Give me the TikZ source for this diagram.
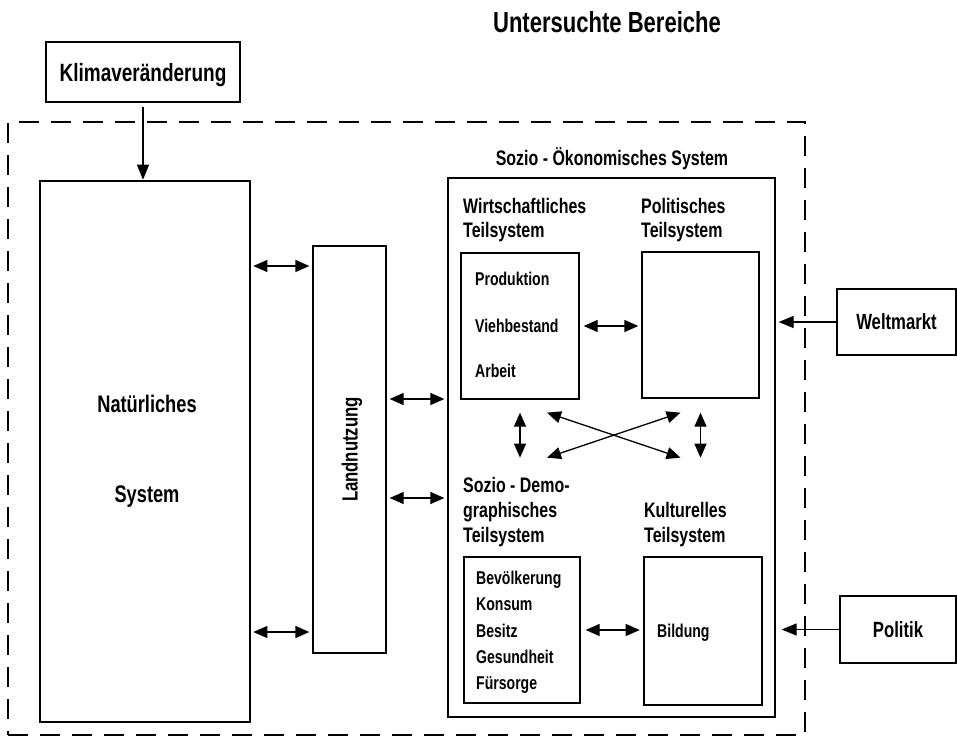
\documentclass[tikz,border=0pt]{standalone}
\usepackage{fontspec}
\setmainfont{Liberation Sans}[FakeStretch=0.76]
\usetikzlibrary{arrows.meta}
\begin{document}
\begin{tikzpicture}[x=1pt,y=-1pt,
   box/.style={draw,line width=1.3pt,inner sep=0pt},
   heavybox/.style={draw,line width=2.6pt,inner sep=0pt},
   frame/.style={draw,line width=1.4pt,dash pattern=on 20pt off 12pt,inner sep=0pt},
   txt/.style={anchor=base west,inner sep=0pt},
   lbl/.style={font=\bfseries\fontsize{21}{24}\selectfont},
   side/.style={box,font=\bfseries\fontsize{22}{24}\selectfont,text height=15.5pt,text depth=0pt},
   item/.style={txt,font=\bfseries\fontsize{18.5}{22}\selectfont},
   tip/.style={line width=1.3pt,-{Triangle[length=15pt,width=12pt]}},
   dbl/.style={line width=1.3pt,{Triangle[length=14pt,width=12pt]}-{Triangle[length=14pt,width=12pt]}}]
  \useasboundingbox (0,0) rectangle (957,739);
  \node[anchor=base,inner sep=0pt,font=\bfseries\fontsize{29}{32}\selectfont](title) at (607,32){Untersuchte Bereiche};
  \node[box,minimum width=194pt,minimum height=60pt,font=\bfseries\fontsize{25}{28}\selectfont,text height=18pt,text depth=0pt](klima) at (143,72){Klimaveränderung};
  \node[frame,minimum width=797pt,minimum height=613pt](ub) at (406.5,428.5){};
  \node[heavybox,minimum width=210pt,minimum height=541pt](nat) at (145,451.5){};
  \node[anchor=base,inner sep=0pt,font=\bfseries\fontsize{24}{28}\selectfont](nat1) at (147,412){Natürliches};
  \node[anchor=base,inner sep=0pt,font=\bfseries\fontsize{24}{28}\selectfont](nat2) at (147,502){System};
  \node[box,minimum width=73pt,minimum height=407pt](land) at (349.5,449.5){};
  \node[rotate=90,inner sep=0pt,font=\bfseries\fontsize{22}{24}\selectfont,text height=16pt,text depth=0pt](landtxt) at (land.center){Landnutzung};
  \node[box,minimum width=327pt,minimum height=539pt](sozio) at (611.5,447.5){};
  \node[lbl,anchor=base,inner sep=0pt](soztitle) at (612,165){Sozio - Ökonomisches System};
  \node[box,minimum width=118pt,minimum height=146pt](wirt) at (520,326){};
  \node[box,minimum width=117pt,minimum height=146pt](polit) at (700.5,325){};
  \node[box,minimum width=116pt,minimum height=146pt](demo) at (522,630){};
  \node[heavybox,minimum width=118pt,minimum height=148pt](bild) at (703,631){};
  \foreach \t/\x/\y [count=\i] in {Wirtschaftliches/463/213,Teilsystem/463/237,Politisches/641/213,Teilsystem/641/237,
      Sozio - Demo-/463/492,graphisches/463/517,Teilsystem/463/542,Kulturelles/644/517,Teilsystem/644/542}
    \node[lbl,txt](h\i) at (\x,\y){\t};
  \foreach \t/\y [count=\i] in {Produktion/285,Viehbestand/332,Arbeit/377}
    \node[item](w\i) at (475,\y){\t};
  \foreach \t/\y [count=\i] in {Bevölkerung/584,Konsum/610,Besitz/637,Gesundheit/663,Fürsorge/689}
    \node[item](d\i) at (476,\y){\t};
  \node[item](bildtxt) at (657,637){Bildung};
  \node[side,minimum width=119pt,minimum height=66pt](welt) at (896.5,322){Weltmarkt};
  \node[side,minimum width=116pt,minimum height=67pt](pol) at (898,629.5){Politik};
  \coordinate (y1) at (0,266);
  \coordinate (y2) at (0,632);
  \coordinate (y3) at (0,399);
  \coordinate (y4) at (0,498);
  \draw[tip,shorten <=4pt](klima.south)--(klima.south|-nat.north);
  \foreach \y in {y1,y2}\draw[dbl,shorten <=2pt,shorten >=3pt](nat.east|-\y)--(land.west|-\y);
  \foreach \y in {y3,y4}\draw[dbl,shorten <=3pt,shorten >=3pt](land.east|-\y)--(sozio.west|-\y);
  \draw[dbl,shorten <=4pt,shorten >=3pt](wirt.east)--(polit.west|-wirt.east);
  \draw[dbl,shorten <=5pt,shorten >=3pt](demo.east)--(bild.west|-demo.east);
  \draw[dbl]([yshift=-13pt]wirt.south)--([yshift=-58pt]wirt.south);
  \draw[dbl]([yshift=-14pt]polit.south)--([yshift=-59pt]polit.south);
  \draw[dbl]([xshift=27pt,yshift=-13pt]wirt.south)--([xshift=-20pt,yshift=-59pt]polit.south);
  \draw[dbl]([xshift=27pt,yshift=-58pt]wirt.south)--([xshift=-20pt,yshift=-14pt]polit.south);
  \draw[tip,shorten >=3pt](welt.west)--(sozio.east|-welt.west);
  \draw[tip,shorten >=6pt](pol.west)--(sozio.east|-pol.west);
\end{tikzpicture}
\end{document}
